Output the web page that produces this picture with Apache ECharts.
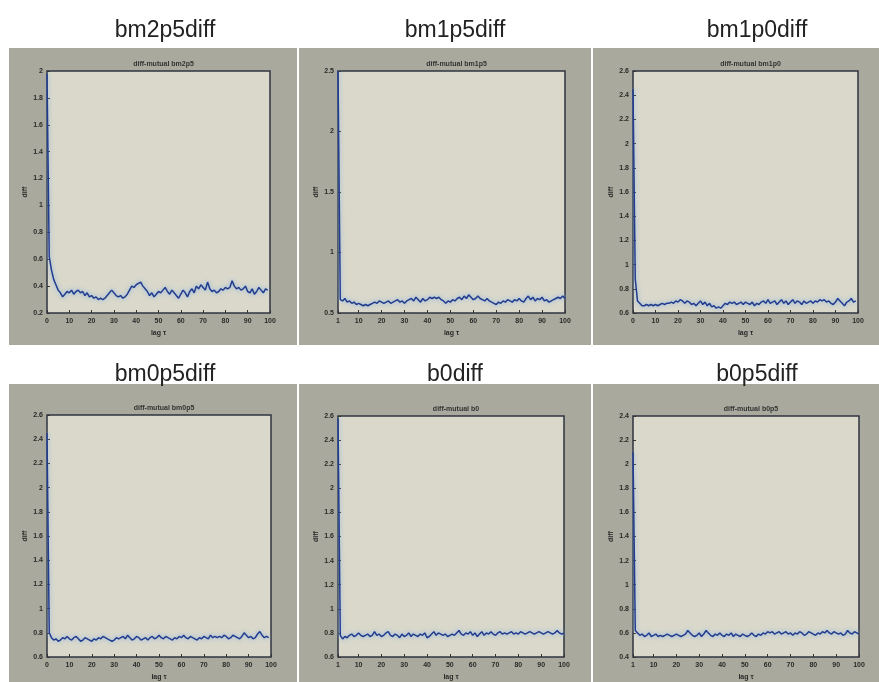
<!DOCTYPE html>
<html>
<head>
<meta charset="utf-8">
<script src="https://cdn.jsdelivr.net/npm/echarts@6/dist/echarts.min.js"></script>
<style>html,body{margin:0;padding:0;background:#fff;}#c{width:879px;height:682px;}</style>
</head>
<body>
<div id="c"></div>
<script>
// ---- data ----
const panelNames = ['bm2p5diff','bm1p5diff','bm1p0diff','bm0p5diff','b0diff','b0p5diff'];
const innerTitles = ['diff-mutual bm2p5','diff-mutual bm1p5','diff-mutual bm1p0','diff-mutual bm0p5','diff-mutual b0','diff-mutual b0p5'];
const lagStart = [0, 1, 0, 0, 1, 1];
const xTicksA = [0,10,20,30,40,50,60,70,80,90,100];
const xTicksB = [1,10,20,30,40,50,60,70,80,90,100];
const yTicks1 = [0.2,0.4,0.6,0.8,1,1.2,1.4,1.6,1.8,2];
const yTicks2 = [0.5,1,1.5,2,2.5];
const yTicks3 = [0.6,0.8,1,1.2,1.4,1.6,1.8,2,2.2,2.4,2.6];
const yTicks6 = [0.4,0.6,0.8,1,1.2,1.4,1.6,1.8,2,2.2,2.4];

const vals_bm2p5 = [
1.98,0.62,0.52,0.45,0.41,0.37,0.35,0.32,0.34,0.36,
0.35,0.37,0.34,0.36,0.37,0.35,0.36,0.33,0.35,0.32,
0.33,0.31,0.32,0.30,0.31,0.30,0.31,0.33,0.35,0.37,
0.35,0.33,0.32,0.33,0.31,0.32,0.34,0.37,0.40,0.39,
0.41,0.42,0.43,0.40,0.38,0.36,0.33,0.35,0.32,0.34,
0.36,0.35,0.37,0.39,0.36,0.34,0.37,0.35,0.33,0.31,
0.34,0.37,0.35,0.32,0.36,0.38,0.35,0.40,0.38,0.41,
0.39,0.37,0.43,0.38,0.36,0.37,0.35,0.36,0.38,0.37,
0.39,0.38,0.39,0.44,0.40,0.38,0.39,0.37,0.38,0.40,
0.36,0.35,0.38,0.34,0.36,0.39,0.37,0.35,0.38,0.37];
const vals_bm1p5 = [
2.50,0.61,0.60,0.62,0.59,0.60,0.58,0.59,0.57,0.58,
0.57,0.56,0.57,0.56,0.57,0.58,0.59,0.58,0.60,0.59,
0.58,0.59,0.60,0.58,0.59,0.60,0.61,0.59,0.60,0.58,
0.60,0.61,0.62,0.60,0.63,0.61,0.59,0.62,0.60,0.61,
0.63,0.62,0.63,0.62,0.63,0.61,0.60,0.58,0.60,0.59,
0.61,0.60,0.62,0.63,0.61,0.64,0.62,0.65,0.63,0.61,
0.62,0.64,0.62,0.61,0.60,0.62,0.60,0.59,0.58,0.57,
0.59,0.58,0.60,0.59,0.61,0.60,0.59,0.61,0.60,0.62,
0.60,0.59,0.62,0.64,0.61,0.63,0.60,0.62,0.61,0.63,
0.60,0.61,0.59,0.60,0.61,0.62,0.63,0.62,0.64,0.62];
const vals_bm1p0 = [
2.45,0.88,0.70,0.68,0.66,0.66,0.67,0.66,0.67,0.66,
0.67,0.66,0.67,0.68,0.67,0.68,0.68,0.69,0.68,0.70,
0.69,0.71,0.70,0.68,0.70,0.69,0.67,0.68,0.66,0.68,
0.70,0.67,0.69,0.66,0.68,0.65,0.66,0.64,0.65,0.64,
0.66,0.68,0.67,0.69,0.68,0.69,0.67,0.68,0.69,0.67,
0.69,0.68,0.67,0.69,0.66,0.68,0.67,0.69,0.70,0.68,
0.71,0.68,0.69,0.70,0.67,0.69,0.71,0.68,0.70,0.67,
0.69,0.71,0.68,0.70,0.69,0.67,0.70,0.68,0.69,0.70,
0.68,0.70,0.69,0.71,0.70,0.71,0.69,0.70,0.68,0.67,
0.69,0.72,0.70,0.68,0.66,0.69,0.70,0.72,0.69,0.70];
const vals_bm0p5 = [
2.45,0.80,0.76,0.74,0.75,0.73,0.74,0.76,0.75,0.77,
0.75,0.74,0.76,0.77,0.75,0.73,0.74,0.76,0.75,0.74,
0.73,0.75,0.74,0.76,0.75,0.77,0.76,0.75,0.74,0.73,
0.74,0.76,0.75,0.76,0.77,0.75,0.78,0.76,0.74,0.75,
0.77,0.76,0.74,0.75,0.76,0.74,0.76,0.77,0.75,0.76,
0.78,0.76,0.75,0.77,0.76,0.75,0.74,0.76,0.75,0.77,
0.76,0.78,0.76,0.75,0.77,0.76,0.75,0.74,0.76,0.75,
0.77,0.76,0.75,0.78,0.76,0.77,0.76,0.77,0.76,0.78,
0.77,0.75,0.76,0.78,0.77,0.76,0.75,0.77,0.80,0.78,
0.76,0.77,0.75,0.76,0.79,0.81,0.78,0.76,0.77,0.76];
const vals_b0 = [
2.58,0.78,0.75,0.77,0.76,0.78,0.79,0.77,0.78,0.80,
0.78,0.77,0.78,0.79,0.77,0.78,0.81,0.78,0.79,0.77,
0.78,0.80,0.81,0.78,0.77,0.79,0.78,0.76,0.79,0.77,
0.78,0.80,0.77,0.79,0.78,0.77,0.79,0.78,0.80,0.76,
0.77,0.79,0.81,0.78,0.80,0.79,0.78,0.79,0.77,0.78,
0.79,0.78,0.80,0.82,0.79,0.78,0.80,0.79,0.81,0.78,
0.80,0.77,0.79,0.81,0.78,0.80,0.79,0.81,0.79,0.78,
0.80,0.81,0.79,0.80,0.79,0.80,0.81,0.79,0.80,0.79,
0.81,0.80,0.79,0.80,0.81,0.80,0.79,0.80,0.81,0.80,
0.79,0.80,0.81,0.80,0.79,0.80,0.82,0.80,0.79,0.80];
const vals_b0p5 = [
2.10,0.62,0.60,0.58,0.59,0.57,0.58,0.60,0.57,0.58,
0.59,0.57,0.58,0.57,0.58,0.59,0.58,0.57,0.58,0.59,
0.58,0.57,0.58,0.59,0.62,0.60,0.58,0.57,0.58,0.60,
0.57,0.59,0.62,0.60,0.58,0.57,0.59,0.58,0.60,0.58,
0.57,0.59,0.58,0.60,0.57,0.59,0.58,0.57,0.59,0.58,
0.57,0.58,0.60,0.58,0.57,0.59,0.58,0.60,0.59,0.61,
0.60,0.61,0.59,0.60,0.61,0.59,0.60,0.61,0.59,0.60,
0.58,0.60,0.59,0.61,0.60,0.58,0.59,0.61,0.60,0.59,
0.58,0.60,0.59,0.61,0.60,0.62,0.60,0.59,0.61,0.60,
0.59,0.60,0.58,0.59,0.62,0.60,0.59,0.61,0.60,0.59];

const allVals = [vals_bm2p5, vals_bm1p5, vals_bm1p0, vals_bm0p5, vals_b0, vals_b0p5];
const xTickSets = [xTicksA, xTicksB, xTicksA, xTicksA, xTicksB, xTicksB];
const yTickSets = [yTicks1, yTicks2, yTicks3, yTicks3, yTicks3, yTicks6];

// ---- layout ----
const grids = [
  {left:47, top:71, width:223, height:242},
  {left:338, top:71, width:227, height:242},
  {left:633, top:71, width:225, height:242},
  {left:47, top:415, width:224, height:242},
  {left:338, top:416, width:226, height:242},
  {left:633, top:416, width:226, height:242}
];
const panelsBg = [
  {x:9, y:48, w:288, h:297}, {x:299, y:48, w:292, h:297}, {x:593, y:48, w:286, h:297},
  {x:9, y:384, w:288, h:298}, {x:299, y:384, w:292, h:298}, {x:593, y:384, w:286, h:298}
];
const titleX = [160, 450, 752, 160, 450, 752];
const titleY = [14, 14, 14, 358, 358, 358];

const chart = echarts.init(document.getElementById('c'), null, {renderer:'canvas'});
const tickFont = {fontSize:7, color:'#2a2a2a', fontFamily:'Liberation Sans, Arial, sans-serif'};

const option = {
  backgroundColor:'#ffffff',
  animation:false,
  graphic: panelsBg.map(p => ({type:'rect', z:-10, shape:{x:p.x, y:p.y, width:p.w, height:p.h}, style:{fill:'#aaa99d'}})),
  title: [].concat(
    panelNames.map((n,i) => ({text:n, left:titleX[i], top:titleY[i], textAlign:'center',
      textStyle:{fontSize:23, fontWeight:'normal', color:'#222', fontFamily:'Liberation Sans, Arial, sans-serif'}})),
    innerTitles.map((n,i) => ({text:n, left:grids[i].left + grids[i].width/2, top:grids[i].top - 15, textAlign:'center',
      textStyle:{fontSize:7, fontWeight:'bold', color:'#333', fontFamily:'Liberation Sans, Arial, sans-serif'}}))
  ),
  grid: grids.map(g => Object.assign({show:true, backgroundColor:'#d9d8cb', borderColor:'#2f3440', borderWidth:1.5, containLabel:false}, g)),
  xAxis: grids.map((g,i) => {
    const t = xTickSets[i];
    return {type:'value', gridIndex:i, min:t[0], max:100,
      name:'lag τ', nameLocation:'middle', nameGap:17,
      nameTextStyle:{fontSize:7, color:'#2a2a2a', fontWeight:'bold'},
      axisLine:{show:false}, splitLine:{show:false},
      axisTick:{inside:true, length:3, lineStyle:{color:'#333'}, customValues:t},
      axisLabel:Object.assign({margin:5, customValues:t, fontWeight:'bold'}, tickFont)};
  }),
  yAxis: grids.map((g,i) => {
    const t = yTickSets[i];
    return {type:'value', gridIndex:i, min:t[0], max:t[t.length-1],
      name:'diff', nameLocation:'middle', nameGap:18,
      nameTextStyle:{fontSize:7, color:'#2a2a2a', fontWeight:'bold'},
      axisLine:{show:false}, splitLine:{show:false},
      axisTick:{inside:true, length:3, lineStyle:{color:'#333'}, customValues:t},
      axisLabel:Object.assign({margin:4, customValues:t, fontWeight:'bold'}, tickFont)};
  }),
  series: allVals.map((v,i) => ({
    type:'line', xAxisIndex:i, yAxisIndex:i, showSymbol:false, symbol:'none',
    data: v.map((y,k) => [lagStart[i] + k, y]),
    lineStyle:{color:'#223c8e', width:1.5, shadowColor:'rgba(130,175,230,0.95)', shadowBlur:4},
    clip:true
  }))
};
chart.setOption(option);
</script>
</body>
</html>
